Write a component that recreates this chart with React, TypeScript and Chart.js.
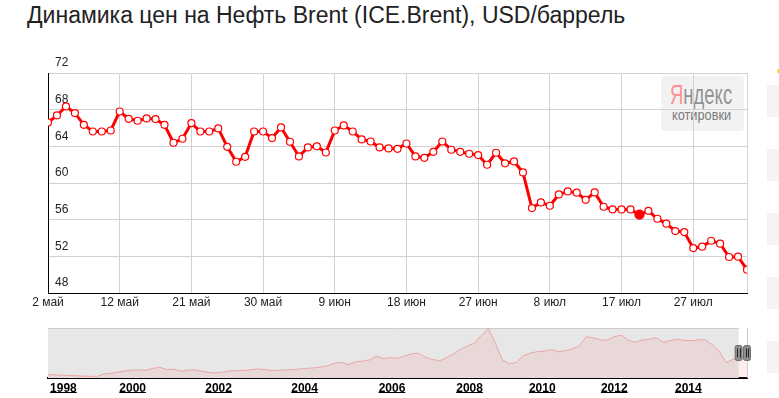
import React, { useEffect, useRef } from "react";
import { Chart, registerables } from "chart.js";

Chart.register(...registerables);

const TITLE = "Динамика цен на Нефть Brent (ICE.Brent), USD/баррель";

// Daily Brent prices, 2 May – end of July (USD/barrel)
const brentPrices = [
  66.6, 67.37, 68.35, 67.63, 66.35, 65.62, 65.62, 65.73, 67.8, 67.0,
  66.79, 67.04, 66.97, 66.35, 64.39, 64.83, 66.54, 65.62, 65.62, 65.95,
  63.95, 62.32, 62.86, 65.62, 65.62, 64.9, 66.06, 64.5, 62.9, 63.88,
  64.0, 63.33, 65.73, 66.28, 65.62, 64.75, 64.53, 63.88, 63.77, 63.73,
  64.31, 62.9, 62.75, 63.4, 64.53, 63.63, 63.4, 63.19, 63.05, 61.99,
  63.3, 62.15, 62.35, 61.15, 57.27, 57.88, 57.52, 58.75, 59.08, 58.94,
  58.17, 58.97, 57.41, 57.12, 57.12, 57.12, 56.54, 56.97, 56.1, 55.56,
  54.76, 54.65, 52.9, 53.05, 53.7, 53.38, 51.93, 51.96, 50.54,
];
const highlightIndex = 66;

// Date labels and the day index each one belongs to
const dateTickLabels = ["2 май", "12 май", "21 май", "30 май", "9 июн", "18 июн", "27 июн", "8 июл", "17 июл", "27 июл"];
const dateTickIndex = [0, 8, 16, 24, 32, 40, 48, 56, 64, 72];

// Y axis range
const yMin = 48;
const yMax = 72;
const yStep = 4;

// Long-history navigator (1998–2015), sampled values
const navPrices = [
  14.5, 13.9, 13.1, 12.2, 11.3, 10.5, 9.9, 9.6, 16.2, 18.8,
  21.7, 25.2, 27.2, 28.6, 26.3, 32.4, 35.5, 28.9, 30.3, 24.3,
  27.2, 28.3, 24.6, 20.6, 19.4, 21.7, 25.2, 26, 26.6, 28.3,
  30.9, 28.9, 26, 27.2, 28.3, 28.9, 30.9, 32.4, 33.8, 36.4,
  39.6, 47.3, 49.4, 43.3, 50.8, 53.1, 56.3, 66.9, 60.3, 62.9,
  61.2, 67.2, 74.1, 75.3, 63.8, 57.7, 53.7, 62.9, 73.3, 86.5,
  96, 103.8, 126, 145.5, 104, 56.3, 45.3, 49, 68, 76.1,
  79.6, 81.3, 85.6, 79.9, 82.2, 88, 96, 122.5, 119, 113.3,
  112.4, 122.5, 126.8, 112.7, 106.1, 113.3, 114.4, 119.9, 106.4, 111.3,
  114.7, 112.1, 111, 113.3, 113.9, 99.8, 81.6, 49, 57.7, 60,
  57.7,
];
const navYearLabels = ["1998", "2000", "2002", "2004", "2006", "2008", "2010", "2012", "2014"];
const navYearIdx = [0.3, 10.2, 22.5, 34.8, 47.3, 58.4, 68.8, 79.1, 89.7];
const navSelectStart = 98.8;
const navMin = 5;
const navMax = 147;

const FONT = '"Liberation Sans", Arial, sans-serif';

const navPlugin = {
  id: "navDecor",
  beforeDatasetsDraw(chart: any) {
    const { ctx, chartArea: a, scales } = chart;
    const sx = scales.x.getPixelForValue(navSelectStart);
    ctx.save();
    ctx.fillStyle = "#e7e7e7";
    ctx.fillRect(a.left, a.top, sx - a.left, a.bottom - a.top);
    ctx.strokeStyle = "#cccccc";
    ctx.lineWidth = 1;
    ctx.beginPath();
    ctx.moveTo(a.left, Math.round(a.top) + 0.5);
    ctx.lineTo(sx, Math.round(a.top) + 0.5);
    ctx.stroke();
    ctx.beginPath();
    ctx.moveTo(Math.round(a.right) + 0.5, a.top);
    ctx.lineTo(Math.round(a.right) + 0.5, a.bottom);
    ctx.stroke();
    ctx.restore();
  },
  afterDraw(chart: any) {
    const { ctx, chartArea: a, scales } = chart;
    const x = scales.x;
    ctx.save();
    // underline year labels
    ctx.font = "bold 12px " + FONT;
    ctx.strokeStyle = "#000";
    ctx.lineWidth = 1;
    navYearIdx.forEach((v, k) => {
      const px = x.getPixelForValue(v);
      const w = ctx.measureText(navYearLabels[k]).width;
      const uy = Math.round(a.bottom + 14) + 0.5;
      ctx.beginPath();
      ctx.moveTo(px, uy);
      ctx.lineTo(px + w, uy);
      ctx.stroke();
    });
    // handles
    const mid = (a.top + a.bottom) / 2;
    const handleXs = [x.getPixelForValue(navSelectStart), a.right];
    handleXs.forEach((hx) => {
      const l = hx - 3.5;
      const t = mid - 7.5;
      ctx.fillStyle = "#8e8e8e";
      ctx.strokeStyle = "#6e6e6e";
      ctx.beginPath();
      if ((ctx as any).roundRect) (ctx as any).roundRect(l, t, 7, 15, 2);
      else ctx.rect(l, t, 7, 15);
      ctx.fill();
      ctx.stroke();
      ctx.strokeStyle = "#222";
      ctx.beginPath();
      ctx.moveTo(Math.round(hx - 1.5) + 0.5, mid - 4.5);
      ctx.lineTo(Math.round(hx - 1.5) + 0.5, mid + 4.5);
      ctx.moveTo(Math.round(hx + 1) + 0.5, mid - 4.5);
      ctx.lineTo(Math.round(hx + 1) + 0.5, mid + 4.5);
      ctx.stroke();
    });
    ctx.restore();
  },
};

export default function App() {
  const mainRef = useRef<HTMLCanvasElement>(null);
  const navRef = useRef<HTMLCanvasElement>(null);

  useEffect(() => {
    const last = brentPrices.length - 1;
    const main = new Chart(mainRef.current as HTMLCanvasElement, {
      type: "line",
      data: {
        datasets: [
          {
            data: brentPrices.map((v, i) => ({ x: i, y: v })),
            borderColor: "#ff0000",
            borderWidth: 3,
            tension: 0,
            pointRadius: (c: any) => (c.dataIndex === highlightIndex ? 4.5 : 3.5),
            pointBackgroundColor: (c: any) => (c.dataIndex === highlightIndex ? "#ff0000" : "#ffffff"),
            pointBorderColor: "#ff0000",
            pointBorderWidth: 1.2,
          },
        ],
      },
      options: {
        responsive: false,
        animation: false,
        events: [],
        layout: { padding: { left: 48, right: 32, top: 73, bottom: 0 } },
        plugins: { legend: { display: false }, tooltip: { enabled: false } },
        scales: {
          x: {
            type: "linear",
            min: 0,
            max: last,
            afterBuildTicks: (s: any) => {
              s.ticks = [...dateTickIndex, last].map((v) => ({ value: v }));
            },
            afterFit: (s: any) => {
              s.height = 27;
            },
            grid: {
              color: (c: any) => (c.tick && c.tick.value === 0 ? "rgba(0,0,0,0)" : "#d2d2d2"),
              drawTicks: false,
            },
            border: { color: "#000", width: 1 },
            ticks: {
              autoSkip: false,
              maxRotation: 0,
              padding: 2,
              color: "#222",
              font: { family: FONT, size: 12 },
              callback: (v: any) => {
                const k = dateTickIndex.indexOf(v);
                return k >= 0 ? dateTickLabels[k] : "";
              },
            },
          },
          y: {
            min: yMin,
            max: yMax,
            afterFit: (s: any) => {
              s.width = 0;
            },
            grid: { color: "#d2d2d2", drawTicks: false },
            border: { color: "#000", width: 1 },
            ticks: {
              stepSize: yStep,
              mirror: true,
              padding: 7,
              labelOffset: -10,
              color: "#222",
              font: { family: FONT, size: 12 },
            },
          },
        },
      } as any,
    });

    const nav = new Chart(navRef.current as HTMLCanvasElement, {
      type: "line",
      data: {
        datasets: [
          {
            data: navPrices.map((v, i) => ({ x: i, y: v })),
            borderColor: "rgba(236,120,120,0.55)",
            borderWidth: 1,
            pointRadius: 0,
            tension: 0,
            fill: "start",
            backgroundColor: "rgba(240,110,110,0.12)",
          },
        ],
      },
      options: {
        responsive: false,
        animation: false,
        events: [],
        layout: { padding: { left: 48, right: 32, top: 8, bottom: 0 } },
        plugins: { legend: { display: false }, tooltip: { enabled: false } },
        scales: {
          x: {
            type: "linear",
            min: 0,
            max: navPrices.length - 1,
            afterBuildTicks: (s: any) => {
              s.ticks = navYearIdx.map((v) => ({ value: v }));
            },
            afterFit: (s: any) => {
              s.height = 20;
            },
            grid: { display: false, drawTicks: false },
            border: { color: "#000", width: 2 },
            ticks: {
              autoSkip: false,
              maxRotation: 0,
              align: "start",
              padding: 3,
              color: "#000",
              font: { family: FONT, size: 12, weight: "bold" },
              callback: (v: any) => {
                const k = navYearIdx.indexOf(v);
                return k >= 0 ? navYearLabels[k] : "";
              },
            },
          },
          y: { display: false, min: navMin, max: navMax },
        },
      } as any,
      plugins: [navPlugin],
    });

    return () => {
      main.destroy();
      nav.destroy();
    };
  }, []);

  const sideBoxes = [85, 149, 213, 277, 341];

  return (
    <div
      style={{
        position: "absolute",
        left: 0,
        top: 0,
        width: 779,
        height: 398,
        background: "#fff",
        overflow: "hidden",
        fontFamily: FONT,
      }}
    >
      <div
        style={{
          position: "absolute",
          left: 27,
          top: 2,
          fontSize: 23,
          lineHeight: "26px",
          color: "#222",
          whiteSpace: "nowrap",
        }}
      >
        {TITLE}
      </div>

      {/* watermark logo (behind the chart canvas) */}
      <div
        style={{
          position: "absolute",
          left: 661,
          top: 76,
          width: 83,
          height: 55,
          borderRadius: 4,
          background: "#f2f2f2",
        }}
      />
      <div
        style={{
          position: "absolute",
          left: 670,
          top: 81,
          fontSize: 28,
          lineHeight: "28px",
          whiteSpace: "nowrap",
          transform: "scaleX(0.66)",
          transformOrigin: "left top",
        }}
      >
        <span style={{ color: "#ff9090" }}>Я</span>
        <span style={{ color: "#929292" }}>ндекс</span>
      </div>
      <div
        style={{
          position: "absolute",
          left: 672,
          top: 107,
          fontSize: 15,
          lineHeight: "15px",
          color: "#7a7a7a",
          whiteSpace: "nowrap",
          transform: "scaleX(0.85)",
          transformOrigin: "left top",
        }}
      >
        котировки
      </div>

      <canvas
        ref={mainRef}
        width={779}
        height={320}
        style={{ position: "absolute", left: 0, top: 0, width: 779, height: 320 }}
      />
      <canvas
        ref={navRef}
        width={779}
        height={78}
        style={{ position: "absolute", left: 0, top: 320, width: 779, height: 78 }}
      />

      {sideBoxes.map((t) => (
        <div
          key={t}
          style={{ position: "absolute", left: 767, top: t, width: 12, height: 32, background: "#f3f3f3" }}
        />
      ))}
      <div style={{ position: "absolute", left: 777, top: 69, width: 2, height: 4, background: "#ffd84a" }} />
    </div>
  );
}
